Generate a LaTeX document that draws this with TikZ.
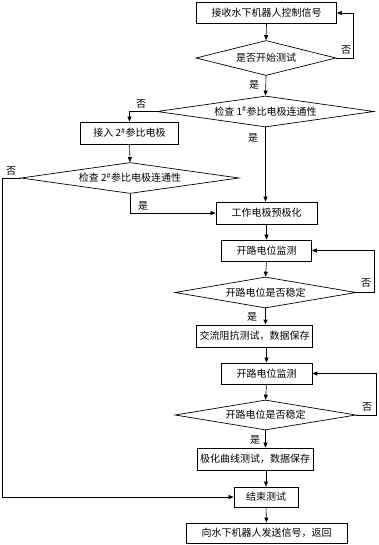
\documentclass[tikz,border=0pt]{standalone}
\usepackage{fontspec}
\newfontfamily\cjk{Noto Sans CJK SC}
\usetikzlibrary{shapes.geometric,arrows.meta}
\tikzset{
  every node/.style={font=\cjk\fontsize{10}{12}\selectfont, inner sep=0pt},
  box/.style={draw, line width=0.8pt, minimum height=21pt},
  dia/.style={draw, line width=0.7pt, diamond, shape aspect=8},
  conn/.style={line width=0.6pt},
  arr/.style={conn, -{Triangle[length=5pt,width=4pt]}},
  lbl/.style={font=\cjk\fontsize{10}{12}\selectfont}
}
\begin{document}
\begin{tikzpicture}[x=1pt,y=-1pt]
\useasboundingbox (0,0) rectangle (378,545);
% nodes
\node[box, minimum width=140pt] (b1) at (266.5,13) {接收水下机器人控制信号};
\node[dia, minimum width=140pt, minimum height=35pt] (d1) at (266,58) {是否开始测试};
\node[dia, minimum width=217pt, minimum height=31pt] (d2) at (265.5,111.5) {检查 1\textsuperscript{\#}参比电极连通性};
\node[box, minimum width=98pt, minimum height=22pt] (b2) at (129.5,133) {接入 2\textsuperscript{\#}参比电极};
\node[dia, minimum width=218pt, minimum height=31pt] (d3) at (130,178) {检查 2\textsuperscript{\#}参比电极连通性};
\node[box, minimum width=101pt, minimum height=22pt] (b3) at (266.5,213) {工作电极预极化};
\node[box, minimum width=90pt] (b4) at (266.5,250.5) {开路电位监测};
\node[dia, minimum width=181pt, minimum height=31pt] (d4) at (265.5,292.5) {开路电位是否稳定};
\node[box, minimum width=116pt, minimum height=22pt] (b5) at (254.5,336) {交流阻抗测试，数据保存};
\node[box, minimum width=91pt] (b6) at (266.5,373.5) {开路电位监测};
\node[dia, minimum width=181pt, minimum height=30pt] (d5) at (265.5,415) {开路电位是否稳定};
\node[box, minimum width=116pt, minimum height=22pt] (b7) at (255,459) {极化曲线测试，数据保存};
\node[box, minimum width=64pt, minimum height=20pt] (b8) at (266,497) {结束测试};
\node[box, minimum width=161pt, minimum height=20pt] (b9) at (266.5,533) {向水下机器人发送信号，返回};
% coordinates
\coordinate (r1) at (353,58);
\coordinate (l2) at (129.5,111.5);
\coordinate (l3) at (2,178);
\coordinate (r4) at (374,292.5);
\coordinate (r5) at (376,415);
% connectors
\draw[arr] (b1.south) -- (d1.north);
\draw[arr] (d1.east) -- (r1) |- (b1.east);
\draw[arr] (d1.south) -- (d2.north);
\draw[arr] (d2.south) -- (d2.south |- b3.north);
\draw[arr] (d2.west) -- (l2) -- (b2.north);
\draw[arr] (b2.south) -- (d3.north);
\draw[arr] (d3.south) |- (b3.west);
\draw[arr] (d3.west) -- (l3) |- (b8.west);
\draw[arr] (b3.south) -- (b4.north);
\draw[arr] (b4.south) -- (d4.north);
\draw[arr] (d4.east) -- (r4) |- (b4.east);
\draw[arr] (d4.south) -- (d4.south |- b5.north);
\draw[arr] (b5.south -| b6.north) -- (b6.north);
\draw[arr] (b6.south) -- (d5.north);
\draw[arr] (d5.east) -- (r5) |- (b6.east);
\draw[arr] (d5.south) -- (d5.south |- b7.north);
\draw[arr] (b7.south -| b8.north) -- (b8.north);
\draw[arr] (b8.south) -- (b9.north);
% labels
\node[lbl] (t1) at (346,50) {否};
\node[lbl] (t2) at (254,85) {是};
\node[lbl] (t3) at (141,104) {否};
\node[lbl] (t4) at (253,138) {是};
\node[lbl] (t5) at (11,171) {否};
\node[lbl] (t6) at (143,206) {是};
\node[lbl] (t7) at (366,283) {否};
\node[lbl] (t8) at (252,317) {是};
\node[lbl] (t9) at (367,407) {否};
\node[lbl] (t10) at (255,440) {是};
\end{tikzpicture}
\end{document}
